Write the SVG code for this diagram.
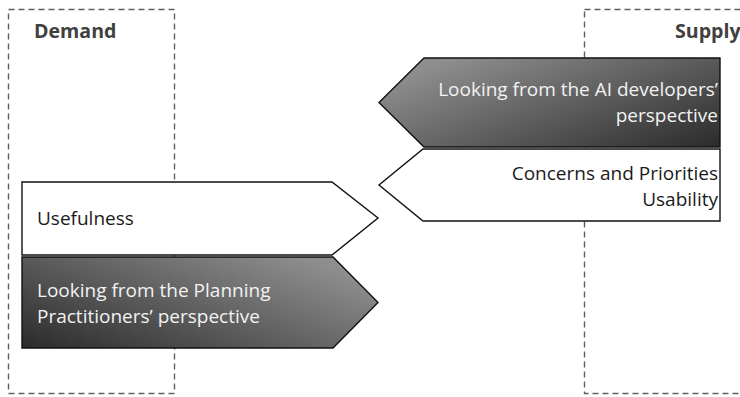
<svg xmlns="http://www.w3.org/2000/svg" width="740" height="397" viewBox="0 0 740 397">
  <defs>
    <linearGradient id="gradDemand" x1="0" y1="1" x2="1" y2="0.3">
      <stop offset="0" stop-color="#2b2b2b"/>
      <stop offset="1" stop-color="#8e8e8e"/>
    </linearGradient>
    <linearGradient id="gradSupply" x1="0" y1="0.3" x2="1" y2="1">
      <stop offset="0" stop-color="#8e8e8e"/>
      <stop offset="1" stop-color="#2b2b2b"/>
    </linearGradient>
    <style>
      .zone { fill: none; stroke: #5f5f5f; stroke-width: 1.4; stroke-dasharray: 6 4; }
      .heading { font-family: "Open Sans", "Noto Sans", sans-serif; font-weight: bold; font-size: 19.6px; fill: #404040; }
      .shape { stroke: #111; stroke-width: 1.4; stroke-linejoin: miter; }
      .light { fill: #ffffff; }
      .label { font-family: "Open Sans", "Noto Sans", sans-serif; font-size: 19px; fill: #1a1a1a; }
      .label-inv { font-family: "Open Sans", "Noto Sans", sans-serif; font-size: 19px; fill: #f2f2f2; }
    </style>
  </defs>

  <!-- dashed zone frames -->
  <g id="zone-demand">
    <rect class="zone" x="8.5" y="9.5" width="166" height="384"/>
    <text class="heading" x="34" y="38">Demand</text>
  </g>
  <g id="zone-supply">
    <rect class="zone" x="584.5" y="9.5" width="200" height="384"/>
    <text class="heading" x="675" y="38">Supply</text>
  </g>

  <!-- supply side arrows (pointing left) -->
  <g id="supply-perspective">
    <polygon class="shape" fill="url(#gradSupply)" points="720,58 424,58 379,102.5 424,147 720,147"/>
    <text class="label-inv" text-anchor="end" x="718" y="96">Looking from the AI developers’</text>
    <text class="label-inv" text-anchor="end" x="718" y="122">perspective</text>
  </g>
  <g id="supply-concerns">
    <polygon class="shape light" points="720,149 423,149 379,185 423,221 720,221"/>
    <text class="label" text-anchor="end" x="718" y="180">Concerns and Priorities</text>
    <text class="label" text-anchor="end" x="718" y="206">Usability</text>
  </g>

  <!-- demand side arrows (pointing right) -->
  <g id="demand-usefulness">
    <polygon class="shape light" points="22,182 332,182 378,218 332,255 22,255"/>
    <text class="label" x="37" y="225">Usefulness</text>
  </g>
  <g id="demand-perspective">
    <polygon class="shape" fill="url(#gradDemand)" points="22,257 333,257 378,302.5 333,348 22,348"/>
    <text class="label-inv" x="37" y="297">Looking from the Planning</text>
    <text class="label-inv" x="37" y="323">Practitioners’ perspective</text>
  </g>

  <g id="connectors"/>
</svg>
